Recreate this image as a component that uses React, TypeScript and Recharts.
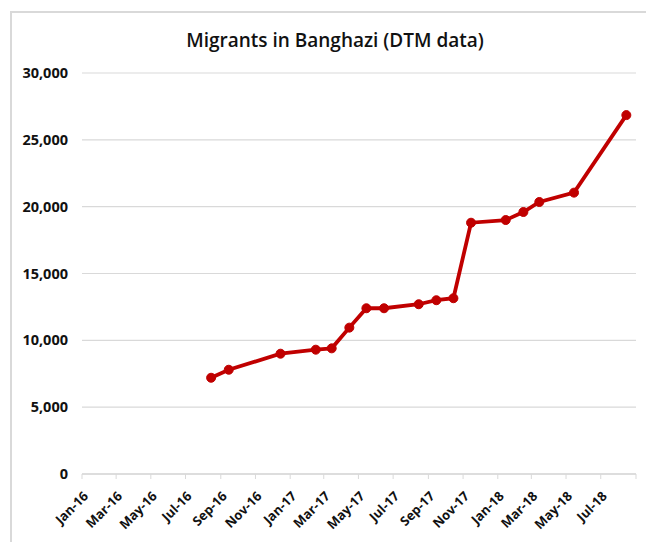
import { LineChart, Line, XAxis, YAxis, CartesianGrid } from 'recharts'

// survey dates (mid-month rounds) and migrant counts
const surveyDates = [
  '2016-08-15', '2016-09-15', '2016-12-15', '2017-02-15', '2017-03-15',
  '2017-04-15', '2017-05-15', '2017-06-15', '2017-08-15', '2017-09-15',
  '2017-10-15', '2017-11-15', '2018-01-15', '2018-02-15', '2018-03-15',
  '2018-05-15', '2018-08-15',
]
const migrants = [
  7200, 7800, 9000, 9300, 9400,
  10950, 12400, 12400, 12700, 13000,
  13150, 18800, 19000, 19600, 20350,
  21050, 26850,
]

const tickLabels = [
  'Jan-16', 'Mar-16', 'May-16', 'Jul-16', 'Sep-16', 'Nov-16',
  'Jan-17', 'Mar-17', 'May-17', 'Jul-17', 'Sep-17', 'Nov-17',
  'Jan-18', 'Mar-18', 'May-18', 'Jul-18',
]
const axisEnd = 'Sep-18'
const yTicks = [0, 5000, 10000, 15000, 20000, 25000, 30000]

const MONTHS = ['Jan', 'Feb', 'Mar', 'Apr', 'May', 'Jun', 'Jul', 'Aug', 'Sep', 'Oct', 'Nov', 'Dec']
const labelToTs = (l: string) => {
  const [m, y] = l.split('-')
  return Date.UTC(2000 + Number(y), MONTHS.indexOf(m), 1)
}
const dateToTs = (d: string) => {
  const [y, m, day] = d.split('-').map(Number)
  return Date.UTC(y, m - 1, day)
}

const data = surveyDates.map((d, i) => ({ t: dateToTs(d), value: migrants[i] }))
const xTicks = [...tickLabels, axisEnd].map(labelToTs)
const labelByTs = new Map(tickLabels.map((l) => [labelToTs(l), l]))

const FONT = '"Open Sans", sans-serif'

const XTick = ({ x, y, payload }: any) => {
  const label = labelByTs.get(payload.value)
  if (!label) return null
  return (
    <text
      transform={`translate(${x + 7},${y + 16}) rotate(-45)`}
      textAnchor='end'
      fontFamily={FONT}
      fontWeight={700}
      fontSize={13}
      fill='#111'
    >
      {label}
    </text>
  )
}

export default function App() {
  return (
    <div style={{ position: 'relative', width: 646, height: 534, overflow: 'hidden' }}>
      <div
        style={{
          position: 'absolute',
          left: 2,
          top: 3,
          width: 700,
          height: 600,
          border: '2px solid #d9d9d9',
        }}
      />
      <div
        style={{
          position: 'absolute',
          left: -8,
          top: 19,
          width: 670,
          textAlign: 'center',
          fontFamily: FONT,
          fontWeight: 600,
          fontSize: 19,
          color: '#111',
        }}
      >
        Migrants in Banghazi (DTM data)
      </div>
      <div style={{ position: 'absolute', left: 2, top: 2 }}>
        <LineChart
          width={644}
          height={532}
          data={data}
          margin={{ top: 63, right: 18, bottom: 8, left: 0 }}
        >
          <CartesianGrid vertical={false} stroke='#d9d9d9' strokeWidth={1.2} />
          <XAxis
            dataKey='t'
            type='number'
            domain={[labelToTs(tickLabels[0]), labelToTs(axisEnd)]}
            ticks={xTicks}
            interval={0}
            height={60}
            tickSize={5}
            stroke='#d9d9d9'
            tickLine={{ stroke: '#d9d9d9' }}
            axisLine={{ stroke: '#d9d9d9', strokeWidth: 1.5 }}
            tick={<XTick />}
          />
          <YAxis
            domain={[0, 30000]}
            ticks={yTicks}
            width={72}
            axisLine={false}
            tickLine={false}
            tickSize={6}
            tickMargin={8}
            tickFormatter={(v: number) => v.toLocaleString('en-US')}
            tick={{ fill: '#111', fontFamily: FONT, fontWeight: 700, fontSize: 14.5 }}
          />
          <Line
            type='linear'
            dataKey='value'
            stroke='#c00000'
            strokeWidth={3.8}
            dot={{ r: 4.5, fill: '#c00000', stroke: '#c00000', strokeWidth: 1 }}
            isAnimationActive={false}
          />
        </LineChart>
      </div>
    </div>
  )
}
